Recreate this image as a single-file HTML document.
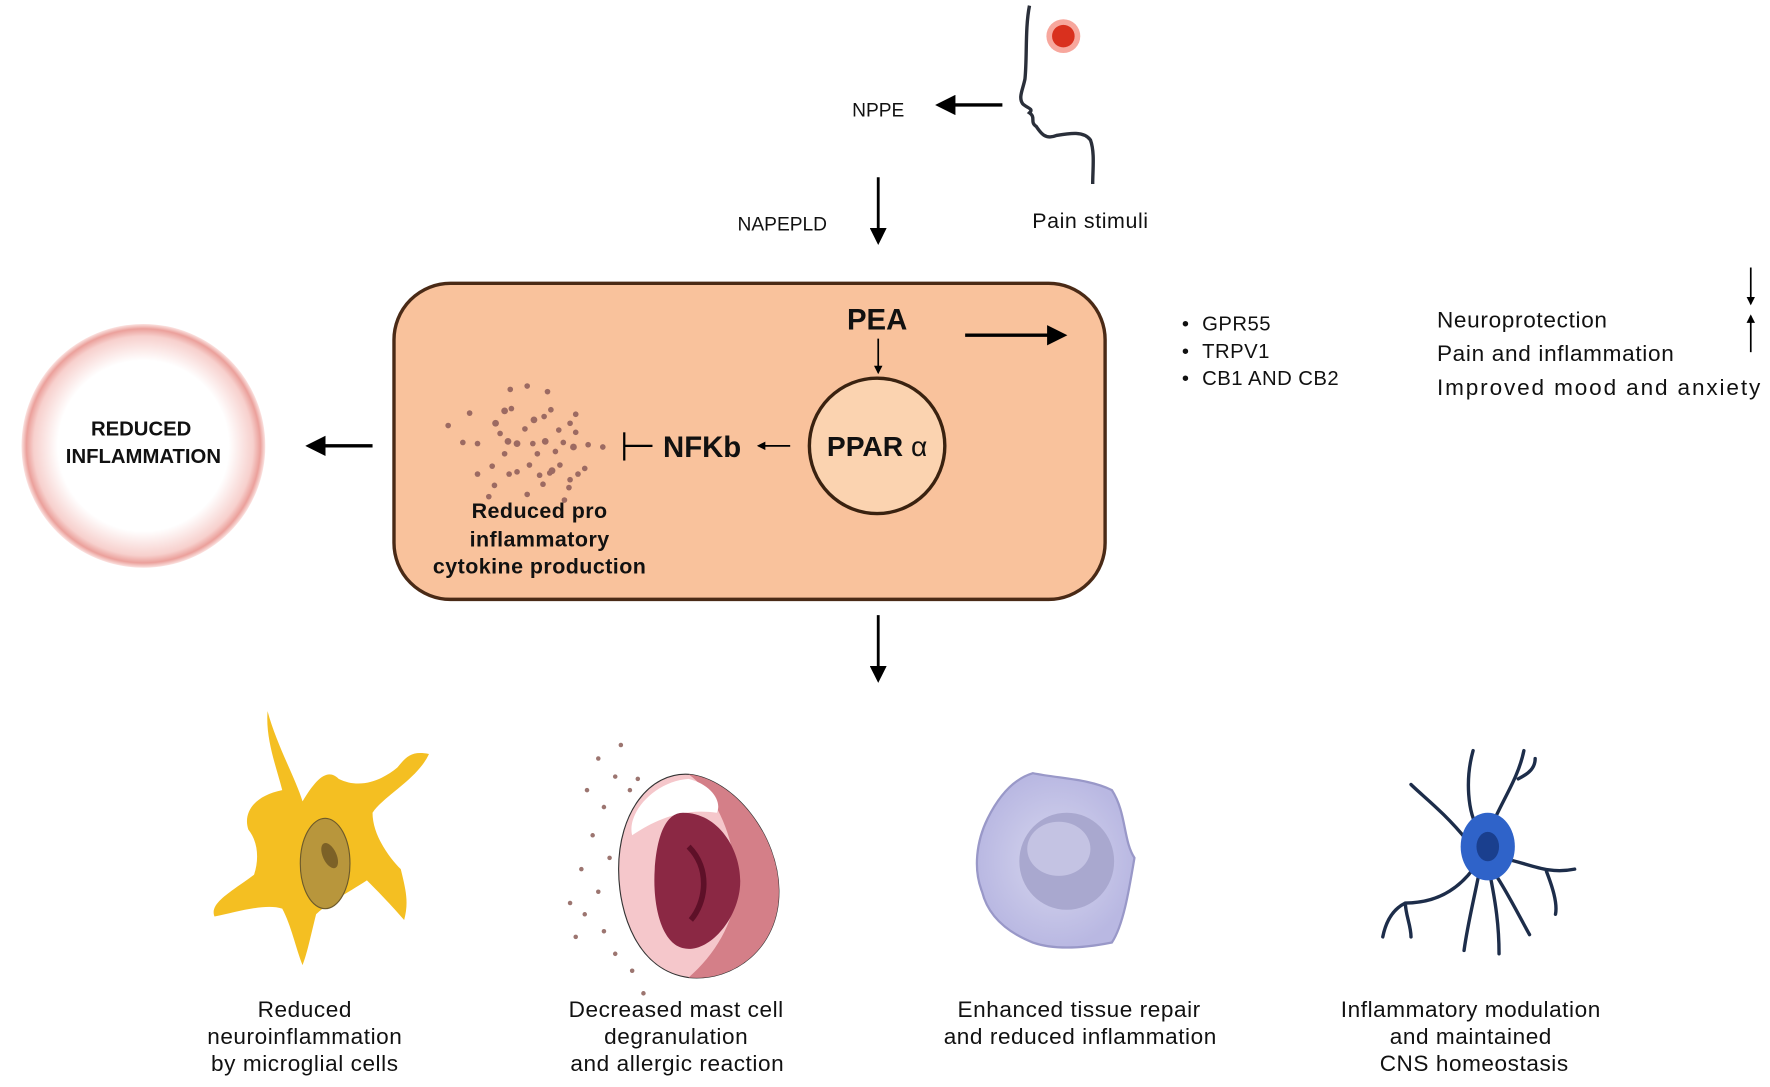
<!DOCTYPE html>
<html><head><meta charset="utf-8"><style>
html,body{margin:0;padding:0;background:#fff;}
svg{display:block;}
text{font-family:"Liberation Sans",sans-serif;fill:#111;}
</style></head><body>
<svg width="1770" height="1087" viewBox="0 0 1568 963" xmlns="http://www.w3.org/2000/svg">
<defs>
<marker id="ah" viewBox="0 0 10 10" refX="8" refY="5" markerWidth="6" markerHeight="6" orient="auto"><path d="M0,0 L10,5 L0,10 z" fill="#000"/></marker>
<marker id="ahs" viewBox="0 0 10 10" refX="8" refY="5" markerWidth="5" markerHeight="5" orient="auto"><path d="M0,0 L10,5 L0,10 z" fill="#000"/></marker>
<radialGradient id="rg" cx="50%" cy="50%" r="50%">
<stop offset="0.7" stop-color="#fff"/><stop offset="0.9" stop-color="#f7d0cd"/><stop offset="0.96" stop-color="#eba09b"/><stop offset="1" stop-color="#fbe3e1"/></radialGradient>
<radialGradient id="rmac" cx="50%" cy="50%" r="50%"><stop offset="0" stop-color="#d6d6ee"/><stop offset="1" stop-color="#b9b8e2"/></radialGradient>
</defs>

<!-- head -->
<circle cx="942" cy="32" r="15" fill="#f26d5b" opacity="0.6"/>
<circle cx="942" cy="32" r="10" fill="#d9301e"/>
<path d="M912,5 C908,25 910,50 908,70 C906,80 902,86 906,92 C910,96 916,96 912,100 C918,104 912,108 918,112 C922,118 926,124 936,120 C948,118 960,116 966,124 C970,135 968,150 968,163" fill="none" stroke="#2a2f3a" stroke-width="3"/>

<text x="778" y="103" font-size="17" text-anchor="middle">NPPE</text>
<line x1="888" y1="93" x2="832" y2="93" stroke="#000" stroke-width="3" marker-end="url(#ah)"/>
<text x="693" y="204" font-size="17" text-anchor="middle">NAPEPLD</text>
<line x1="778" y1="157" x2="778" y2="214" stroke="#000" stroke-width="2.5" marker-end="url(#ah)"/>
<text x="966" y="202" font-size="19" text-anchor="middle" letter-spacing="0.5">Pain stimuli</text>

<!-- main box -->
<rect x="349" y="251" width="630" height="280" rx="50" fill="#f9c29c" stroke="#4a2a16" stroke-width="3"/>
<text x="777" y="292" font-size="26" font-weight="bold" text-anchor="middle">PEA</text>
<line x1="778" y1="300" x2="778" y2="330" stroke="#000" stroke-width="1.5" marker-end="url(#ahs)"/>
<circle cx="777" cy="395" r="60" fill="#fbd3b0" stroke="#3a2210" stroke-width="3"/>
<text x="777" y="404" font-size="25" font-weight="bold" text-anchor="middle">PPAR <tspan font-weight="normal">α</tspan></text>
<line x1="700" y1="395" x2="672" y2="395" stroke="#000" stroke-width="1.5" marker-end="url(#ahs)"/>
<text x="622" y="405" font-size="26" font-weight="bold" text-anchor="middle">NFKb</text>
<line x1="553" y1="395" x2="578" y2="395" stroke="#000" stroke-width="2"/>
<line x1="553" y1="383" x2="553" y2="408" stroke="#000" stroke-width="2"/>
<g fill="#9c6a62">
<circle cx="467" cy="342" r="2.5"/><circle cx="452" cy="345" r="2.5"/><circle cx="485" cy="347" r="2.5"/>
<circle cx="416" cy="366" r="2.5"/><circle cx="447" cy="364" r="3"/><circle cx="453" cy="362" r="2.5"/><circle cx="488" cy="363" r="2.5"/><circle cx="510" cy="367" r="2.5"/>
<circle cx="397" cy="377" r="2.5"/><circle cx="439" cy="375" r="3"/><circle cx="473" cy="372" r="3"/><circle cx="482" cy="369" r="2.5"/><circle cx="505" cy="375" r="2.5"/>
<circle cx="443" cy="384" r="2.5"/><circle cx="465" cy="380" r="2.5"/><circle cx="495" cy="381" r="2.5"/><circle cx="510" cy="383" r="2.5"/>
<circle cx="410" cy="392" r="2.5"/><circle cx="423" cy="393" r="2.5"/><circle cx="450" cy="391" r="3"/><circle cx="458" cy="393" r="3"/><circle cx="472" cy="393" r="2.5"/><circle cx="483" cy="391" r="3"/><circle cx="499" cy="392" r="2.5"/><circle cx="508" cy="396" r="3"/><circle cx="521" cy="394" r="2.5"/><circle cx="534" cy="396" r="2.5"/>
<circle cx="447" cy="402" r="2.5"/><circle cx="476" cy="402" r="2.5"/><circle cx="492" cy="400" r="2.5"/>
<circle cx="436" cy="413" r="2.5"/><circle cx="469" cy="412" r="2.5"/><circle cx="489" cy="417" r="3"/><circle cx="496" cy="412" r="2.5"/><circle cx="518" cy="415" r="2.5"/>
<circle cx="423" cy="420" r="2.5"/><circle cx="451" cy="420" r="2.5"/><circle cx="458" cy="418" r="2.5"/><circle cx="478" cy="421" r="2.5"/><circle cx="487" cy="419" r="2.5"/><circle cx="505" cy="425" r="2.5"/><circle cx="512" cy="420" r="2.5"/>
<circle cx="438" cy="430" r="2.5"/><circle cx="481" cy="429" r="2.5"/><circle cx="504" cy="432" r="2.5"/>
<circle cx="433" cy="440" r="2.5"/><circle cx="467" cy="438" r="2.5"/><circle cx="500" cy="443" r="2.5"/>
</g>
<text font-size="19" font-weight="bold" text-anchor="middle" letter-spacing="0.4"><tspan x="478" y="459">Reduced pro</tspan><tspan x="478" y="484">inflammatory</tspan><tspan x="478" y="508">cytokine production</tspan></text>

<line x1="855" y1="297" x2="942" y2="297" stroke="#000" stroke-width="3" marker-end="url(#ah)"/>
<g font-size="18" letter-spacing="0.4"><text x="1047" y="293">•</text><text x="1065" y="293">GPR55</text>
<text x="1047" y="317">•</text><text x="1065" y="317">TRPV1</text>
<text x="1047" y="341">•</text><text x="1065" y="341">CB1 AND CB2</text></g>
<g font-size="20" letter-spacing="0.6"><text x="1273" y="290">Neuroprotection</text><text x="1273" y="320">Pain and inflammation</text><text x="1273" y="350" textLength="287">Improved mood and anxiety</text></g>
<line x1="1551" y1="237" x2="1551" y2="269" stroke="#000" stroke-width="1.5" marker-end="url(#ahs)"/>
<line x1="1551" y1="312" x2="1551" y2="280" stroke="#000" stroke-width="1.5" marker-end="url(#ahs)"/>

<!-- reduced inflammation -->
<circle cx="127" cy="395" r="108" fill="url(#rg)"/>
<text font-size="18" font-weight="bold" text-anchor="middle"><tspan x="125" y="386">REDUCED</tspan><tspan x="127" y="410">INFLAMMATION</tspan></text>
<line x1="330" y1="395" x2="274" y2="395" stroke="#000" stroke-width="3" marker-end="url(#ah)"/>
<line x1="778" y1="545" x2="778" y2="602" stroke="#000" stroke-width="2.5" marker-end="url(#ah)"/>

<!-- microglia -->
<path d="M237,630 C245,660 262,690 268,710 C280,690 290,680 300,690 C320,700 340,690 352,680 C360,670 365,665 380,668 C370,690 340,705 330,720 C330,740 345,760 355,770 C360,790 362,800 358,815 C345,800 335,790 325,780 C310,790 290,800 280,810 C275,830 272,845 268,855 C262,840 258,820 250,805 C235,800 210,808 190,812 C185,800 205,790 225,775 C230,760 228,745 220,735 C215,720 225,705 250,700 C245,680 235,655 237,630 z" fill="#f4bf22"/>
<ellipse cx="288" cy="765" rx="22" ry="40" fill="#b8963c" stroke="#6d5a2a" stroke-width="1"/>
<ellipse cx="292" cy="758" rx="6" ry="12" fill="#7c6127" transform="rotate(-25 292 758)"/>

<!-- mast cell -->
<g fill="#9c7570"><circle cx="530" cy="672" r="2"/><circle cx="545" cy="688" r="2"/><circle cx="558" cy="700" r="2"/><circle cx="520" cy="700" r="2"/><circle cx="535" cy="715" r="2"/><circle cx="525" cy="740" r="2"/><circle cx="515" cy="770" r="2"/><circle cx="530" cy="790" r="2"/><circle cx="518" cy="810" r="2"/><circle cx="535" cy="825" r="2"/><circle cx="545" cy="845" r="2"/><circle cx="560" cy="860" r="2"/><circle cx="570" cy="880" r="2"/><circle cx="505" cy="800" r="2"/><circle cx="540" cy="760" r="2"/><circle cx="550" cy="660" r="2"/><circle cx="565" cy="690" r="2"/><circle cx="510" cy="830" r="2"/></g>
<path d="M610,686 C650,690 690,740 690,790 C690,840 650,870 610,866 C565,860 548,810 548,770 C548,720 575,684 610,686 z" fill="#f5c7cb" stroke="#333" stroke-width="1"/>
<path d="M610,686 C650,690 690,740 690,790 C690,840 650,870 610,866 C640,840 660,800 650,760 C645,730 630,700 610,686 z" fill="#d47f88"/>
<path d="M610,690 C630,695 640,710 635,720 C600,715 575,730 560,740 C555,720 580,692 610,690 z" fill="#fff"/>
<path d="M605,720 C640,720 660,760 655,790 C650,820 625,845 605,840 C585,835 578,800 580,770 C582,740 590,720 605,720 z" fill="#8b2844"/>
<path d="M610,750 C630,770 625,800 612,815" fill="none" stroke="#5e1028" stroke-width="5"/>

<!-- macrophage -->
<path d="M915,685 C940,690 965,690 985,700 C998,720 995,745 1005,760 C1000,790 995,820 985,835 C960,840 935,842 915,835 C890,825 875,810 870,790 C862,770 865,745 875,725 C885,705 898,690 915,685 z" fill="url(#rmac)" stroke="#9998c8" stroke-width="2"/>
<ellipse cx="945" cy="763" rx="42" ry="43" fill="#a9a8cf"/>
<ellipse cx="938" cy="752" rx="28" ry="24" fill="#c4c3e3"/>

<!-- neuron -->
<g fill="none" stroke="#1d2d4a" stroke-width="3" stroke-linecap="round">
<path d="M1310,735 C1300,720 1298,690 1305,665"/><path d="M1320,735 C1330,710 1345,690 1350,665 M1345,690 C1355,685 1360,680 1360,672"/>
<path d="M1300,745 C1280,720 1260,705 1250,695"/><path d="M1330,760 C1355,765 1370,775 1395,770"/><path d="M1370,772 C1375,785 1380,800 1378,810"/>
<path d="M1305,770 C1290,790 1270,800 1245,800 C1235,805 1228,815 1225,830 M1245,800 C1245,810 1250,820 1250,830"/>
<path d="M1310,775 C1305,800 1300,820 1297,842"/><path d="M1320,775 C1325,800 1328,820 1328,845"/><path d="M1325,775 C1335,790 1345,810 1355,828"/>
</g>
<ellipse cx="1318" cy="750" rx="24" ry="30" fill="#2f63c9"/>
<ellipse cx="1318" cy="750" rx="10" ry="13" fill="#1a3f8e"/>

<g font-size="20" text-anchor="middle" letter-spacing="0.5">
<text><tspan x="270" y="901">Reduced</tspan><tspan x="270" y="925">neuroinflammation</tspan><tspan x="270" y="949">by microglial cells</tspan></text>
<text><tspan x="599" y="901">Decreased mast cell</tspan><tspan x="599" y="925">degranulation</tspan><tspan x="600" y="949">and allergic reaction</tspan></text>
<text><tspan x="956" y="901">Enhanced tissue repair</tspan><tspan x="957" y="925">and reduced inflammation</tspan></text>
<text><tspan x="1303" y="901">Inflammatory modulation</tspan><tspan x="1303" y="925">and  maintained</tspan><tspan x="1306" y="949">CNS homeostasis</tspan></text>
</g>
</svg>
</body></html>
